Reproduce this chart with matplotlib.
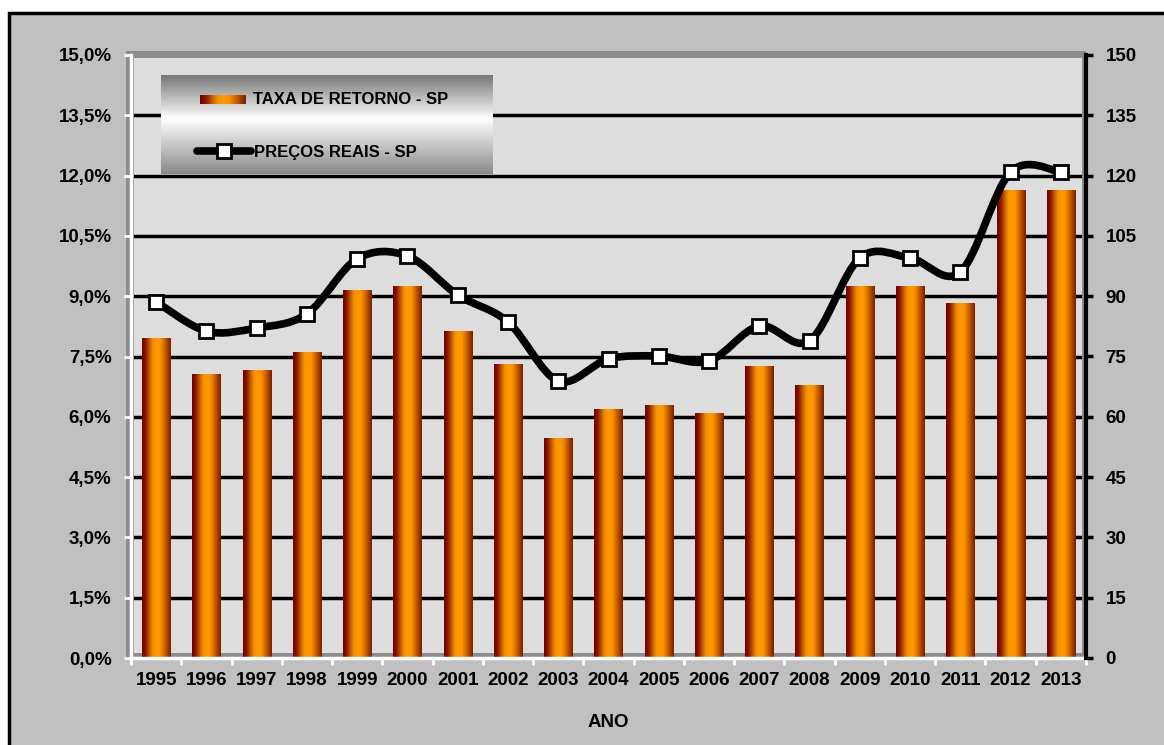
import matplotlib
matplotlib.use('Agg')
import matplotlib.pyplot as plt
import numpy as np
from matplotlib.colors import LinearSegmentedColormap
from matplotlib.patches import Rectangle, PathPatch
from matplotlib.path import Path
from matplotlib.lines import Line2D
from matplotlib.ticker import FuncFormatter

plt.rcParams['font.family'] = ['Liberation Sans', 'DejaVu Sans']
plt.rcParams['font.weight'] = 'bold'

anos = ['1995', '1996', '1997', '1998', '1999', '2000', '2001', '2002', '2003', '2004',
        '2005', '2006', '2007', '2008', '2009', '2010', '2011', '2012', '2013']
# taxa de retorno (%) - eixo esquerdo
taxa = [7.95, 7.06, 7.14, 7.59, 9.15, 9.25, 8.13, 7.31, 5.45, 6.19,
        6.27, 6.09, 7.24, 6.77, 9.25, 9.25, 8.83, 11.62, 11.62]
# precos reais - eixo direito
precos = [88.6, 81.3, 82.1, 85.6, 99.3, 100.0, 90.3, 83.6, 68.9, 74.4,
          75.1, 73.9, 82.6, 78.9, 99.5, 99.5, 96.0, 120.9, 120.9]

W, H = 1164, 745
fig = plt.figure(figsize=(W / 100, H / 100), dpi=100, facecolor='#c0c0c0')

# margem branca em cima e a esquerda, com borda preta
fig.patches.append(Rectangle((0, 0), 8 / W, 1, transform=fig.transFigure,
                             facecolor='white', edgecolor='none', zorder=-5))
fig.patches.append(Rectangle((0, 1 - 12 / H), 1, 12 / H, transform=fig.transFigure,
                             facecolor='white', edgecolor='none', zorder=-5))
fig.lines.append(Line2D([9 / W, 9 / W, 1], [0, 1 - 13 / H, 1 - 13 / H], transform=fig.transFigure,
                        color='black', lw=2.5, solid_joinstyle='miter', zorder=-4))

ax = fig.add_axes([131 / W, (H - 658) / H, 955 / W, 603 / H])
ax.set_facecolor('#dddddd')

n = len(anos)
x = np.arange(n)
w = 0.56

cil = LinearSegmentedColormap.from_list('cil', [
    (0.0, '#6e0000'), (0.12, '#8a1800'), (0.25, '#c05800'), (0.38, '#f59000'),
    (0.5, '#ff9a00'), (0.62, '#ff9400'), (0.75, '#d87000'), (0.88, '#a84400'),
    (1.0, '#7a2000')])
grad = np.linspace(0, 1, 64).reshape(1, -1)
for xi, v in zip(x, taxa):
    ax.imshow(grad, cmap=cil, extent=(xi - w / 2, xi + w / 2, 0, v), aspect='auto',
              interpolation='bilinear', zorder=2)

ax.set_xlim(-0.5, n - 0.5)
ax.set_ylim(0, 15)
ax.set_yticks(np.arange(0, 15.01, 1.5))
ax.yaxis.set_major_formatter(FuncFormatter(lambda v, p: f'{v:.1f}%'.replace('.', ',')))

for g in np.arange(1.5, 14, 1.5):
    ax.axhline(g, color='black', lw=2.5, zorder=1)

# bordas cinzas (parede 3D)
dx, dy = 1 / 955, 1 / 603
for r in [((-5 * dx, 1 - 3 * dy), 1 + 5 * dx, 7 * dy),
          ((-5 * dx, 0), 8 * dx, 1 + 4 * dy),
          ((1 - 4 * dx, 0), 4 * dx, 1 + 4 * dy),
          ((0, 0), 1, 5 * dy)]:
    ax.add_patch(Rectangle(*r, transform=ax.transAxes, facecolor='#8c8c8c',
                           edgecolor='none', clip_on=False, zorder=1.5))

for s in ['top', 'right']:
    ax.spines[s].set_visible(False)
ax.spines['left'].set_color('white')
ax.spines['left'].set_linewidth(2.5)
ax.spines['bottom'].set_color('white')
ax.spines['bottom'].set_linewidth(2.5)
ax.spines['left'].set_zorder(3)
ax.spines['bottom'].set_zorder(3)

ax.set_xticks(x)
ax.set_xticklabels(anos)
ax.set_xticks(np.arange(-0.5, n, 1), minor=True)
ax.tick_params(axis='x', which='major', length=0, pad=10, labelsize=13.5)
ax.tick_params(axis='x', which='minor', length=5, width=2, color='white')
ax.tick_params(axis='y', length=5, width=2, color='white', pad=9, labelsize=13.5)
ax.set_xlabel('ANO', fontsize=13.5, fontweight='bold', labelpad=18)

ax2 = ax.twinx()
ax2.set_ylim(0, 150)
ax2.set_yticks(np.arange(0, 151, 15))
for s in ['top', 'left', 'bottom']:
    ax2.spines[s].set_visible(False)
ax2.spines['right'].set_color('black')
ax2.spines['right'].set_linewidth(3)
ax2.tick_params(axis='y', length=5, width=2.5, color='black', pad=9, labelsize=13.5)

# linha suavizada (curvas de Bezier pelos pontos)
pts = np.column_stack([x, precos]).astype(float)
verts = [pts[0]]
codes = [Path.MOVETO]
for i in range(n - 1):
    p0 = pts[max(i - 1, 0)]
    p1 = pts[i]
    p2 = pts[i + 1]
    p3 = pts[min(i + 2, n - 1)]
    verts += [p1 + (p2 - p0) / 6, p2 - (p3 - p1) / 6, p2]
    codes += [Path.CURVE4] * 3
ax2.add_patch(PathPatch(Path(verts, codes), fill=False, lw=5.5, edgecolor='black',
                        capstyle='round', joinstyle='round', zorder=2))
ax2.plot(x, precos, ls='none', marker='s', ms=10, mfc='white', mec='black', mew=2, zorder=3)
ax2.set_xlim(-0.5, n - 0.5)

# legenda com fundo em degrade
lg = fig.add_axes([161 / W, (H - 174) / H, 332 / W, 99 / H])
lg.axis('off')
cinza = LinearSegmentedColormap.from_list('cz', [(0, '#777777'), (0.44, '#ffffff'), (1, '#8a8a8a')])
lg.imshow(np.linspace(0, 1, 100).reshape(-1, 1), cmap=cinza, extent=(0, 332, 99, 0),
          aspect='auto', interpolation='bilinear', zorder=0)
lg.imshow(grad, cmap=cil, extent=(39, 85, 29, 20), aspect='auto', interpolation='bilinear', zorder=1)
lg.text(92, 25, 'TAXA DE RETORNO - SP', fontsize=12, fontweight='bold', va='center', ha='left')
lg.plot([36, 90], [76, 76], color='black', lw=5.5, solid_capstyle='round', zorder=1)
lg.plot([63], [76], ls='none', marker='s', ms=10, mfc='white', mec='black', mew=2, zorder=2)
lg.text(93, 77, 'PREÇOS REAIS - SP', fontsize=12, fontweight='bold', va='center', ha='left')
lg.set_xlim(0, 332)
lg.set_ylim(99, 0)

fig.savefig('out.png', dpi=100, facecolor='#c0c0c0')
